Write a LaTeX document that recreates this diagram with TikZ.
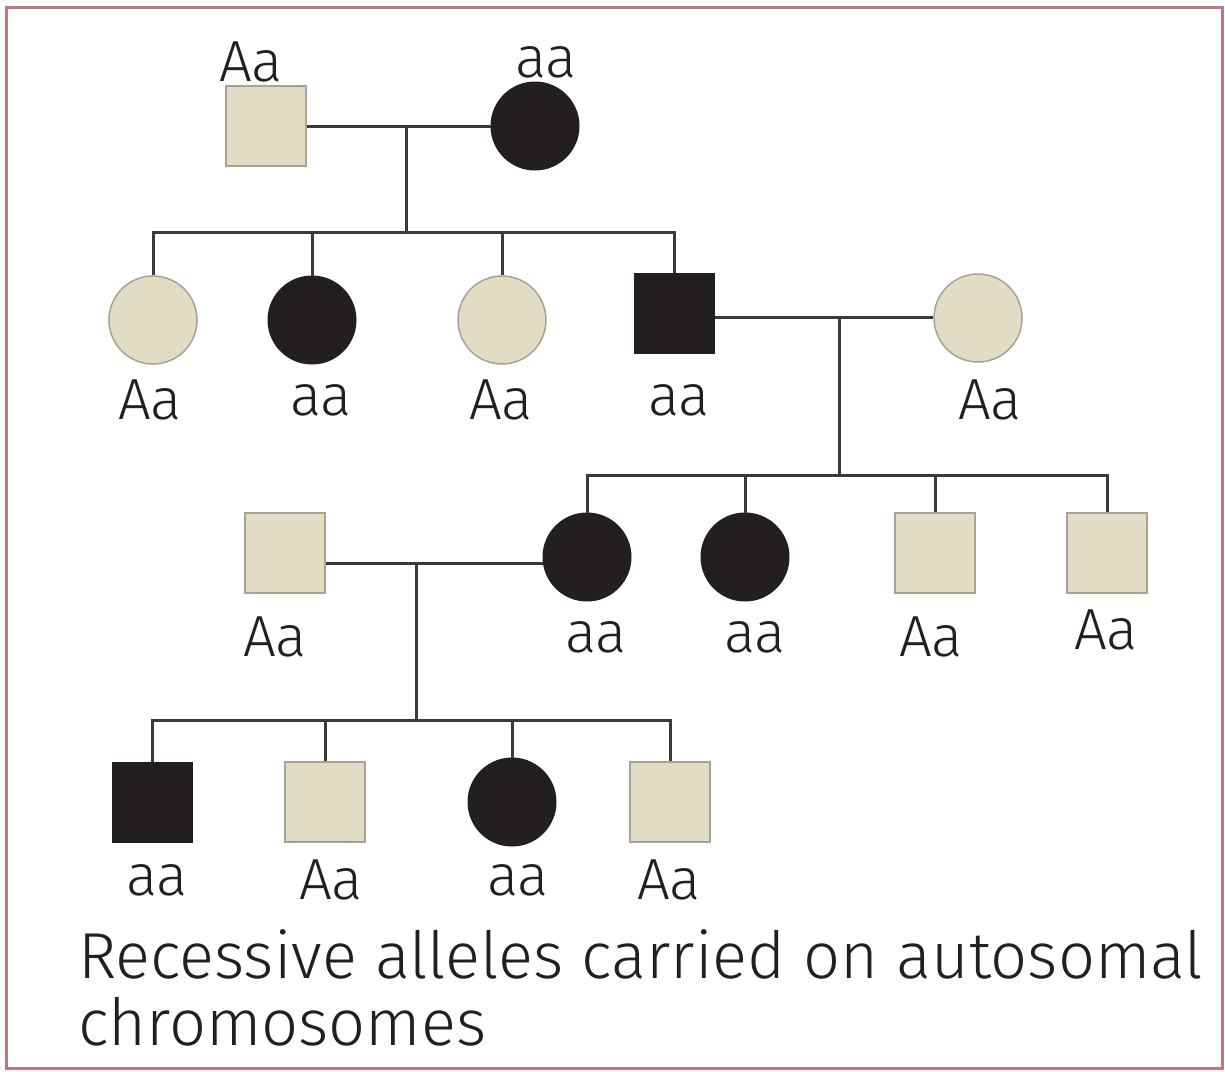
\documentclass[tikz,border=0pt]{standalone}
\usepackage{fontspec}
\setmainfont{Fira Sans Light}
\definecolor{beige}{HTML}{E3DCC5}
\definecolor{beigeedge}{HTML}{A8A294}
\definecolor{ink}{HTML}{231F20}
\definecolor{frame}{HTML}{C07880}
\definecolor{linec}{HTML}{3A3A3A}
\begin{document}
\begin{tikzpicture}[x=1pt,y=-1pt,
  sqA/.style={rectangle,minimum size=80pt,inner sep=0pt,fill=beige,draw=beigeedge,line width=1.5pt},
  sqa/.style={rectangle,minimum size=80pt,inner sep=0pt,fill=ink,draw=ink,line width=1pt},
  ciA/.style={circle,minimum size=88pt,inner sep=0pt,fill=beige,draw=beigeedge,line width=1.5pt},
  cia/.style={circle,minimum size=88pt,inner sep=0pt,fill=ink,draw=ink,line width=1pt},
  lab/.style={inner sep=0pt,text=ink,font=\fontsize{58}{60}\selectfont},
  link/.style={draw=linec,line width=3pt},
  captext/.style={inner sep=0pt,anchor=base west,text=ink,font=\fontsize{65}{70}\selectfont}]
\useasboundingbox (0,0) rectangle (1225,1071);
\fill[white] (0,0) rectangle (1225,1071);
\draw[frame,line width=3pt] (6,7) rectangle (1222,1068);
% generation 1
\node[sqA] (g1m) at (266,126) {};
\node[cia] (g1f) at (535,126) {};
\node[lab] (l1m) at (251,62) {Aa};
\node[lab] (l1f) at (546,62) {aa};
% generation 2
\node[ciA] (c1) at (153,320) {};
\node[cia] (c2) at (312,320) {};
\node[ciA] (c3) at (502,320) {};
\node[sqa] (c4) at (674,313) {};
\node[ciA] (s4) at (978,318) {};
\node[lab] (lc1) at (150,400) {Aa};
\node[lab] (lc2) at (321,400) {aa};
\node[lab] (lc3) at (501,400) {Aa};
\node[lab] (lc4) at (679,400) {aa};
\node[lab] (ls4) at (990,400) {Aa};
% generation 3
\node[sqA] (s5) at (285,553) {};
\node[cia] (d1) at (587,557) {};
\node[cia] (d2) at (745,557) {};
\node[sqA] (d3) at (935,553) {};
\node[sqA] (d4) at (1107,553) {};
\node[lab] (ls5) at (275,637) {Aa};
\node[lab] (ld1) at (596,637) {aa};
\node[lab] (ld2) at (755,637) {aa};
\node[lab] (ld3) at (931,637) {Aa};
\node[lab] (ld4) at (1106,630) {Aa};
% generation 4
\node[sqa] (e1) at (152,802) {};
\node[sqA] (e2) at (325,802) {};
\node[cia] (e3) at (512,802) {};
\node[sqA] (e4) at (670,802) {};
\node[lab] (le1) at (157,880) {aa};
\node[lab] (le2) at (331,880) {Aa};
\node[lab] (le3) at (518,880) {aa};
\node[lab] (le4) at (669,880) {Aa};
% connectors
\coordinate (m1) at (406,126);
\coordinate (b1) at (406,232);
\draw[link] (g1m.east) -- (g1f.west);
\draw[link] (m1) -- (b1);
\draw[link] (c1.north) -- (c1.north |- b1) -- (c4.north |- b1) -- (c4.north);
\draw[link] (c2.north) -- (c2.north |- b1);
\draw[link] (c3.north) -- (c3.north |- b1);
\coordinate (m2) at (839,317);
\coordinate (b2) at (839,475);
\draw[link] (c4.east |- m2) -- (s4.west |- m2);
\draw[link] (m2) -- (b2);
\draw[link] (d1.north) -- (d1.north |- b2) -- (d4.north |- b2) -- (d4.north);
\draw[link] (d2.north) -- (d2.north |- b2);
\draw[link] (d3.north) -- (d3.north |- b2);
\coordinate (m3) at (416,563);
\coordinate (b3) at (416,720);
\draw[link] (s5.east |- m3) -- (d1.west |- m3);
\draw[link] (m3) -- (b3);
\draw[link] (e1.north) -- (e1.north |- b3) -- (e4.north |- b3) -- (e4.north);
\draw[link] (e2.north) -- (e2.north |- b3);
\draw[link] (e3.north) -- (e3.north |- b3);
% caption
\node[captext] (t1) at (78,978) {Recessive alleles carried on autosomal};
\node[captext] (t2) at (78,1045) {chromosomes};
\end{tikzpicture}
\end{document}
